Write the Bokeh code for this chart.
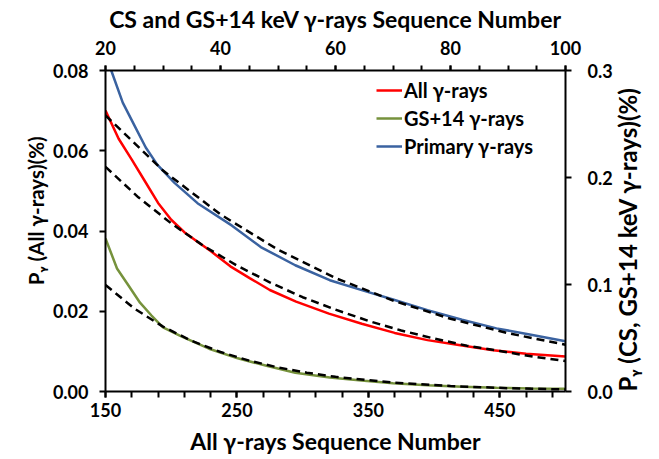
import math
from bokeh.plotting import figure
from bokeh.models import Range1d, LinearAxis, FixedTicker, PrintfTickFormatter, Legend
from bokeh.embed import file_html
from bokeh.resources import INLINE

# ---- data ----
# All gamma-rays: bottom axis (sequence number) / left axis (%)
red_x = [150, 160, 170, 180, 190, 200, 210, 220, 230, 245, 260, 275, 295, 320, 345, 370, 395, 420, 445, 470, 500]
red_y = [0.0700, 0.0630, 0.0578, 0.0524, 0.0470, 0.0428, 0.0397, 0.0373, 0.0350, 0.0312, 0.0282, 0.0253,
         0.0224, 0.0194, 0.0169, 0.0146, 0.0128, 0.0115, 0.0103, 0.0094, 0.0087]
redfit_x = [150, 175, 200, 225, 250, 275, 300, 325, 350, 375, 400, 425, 450, 475, 500]
redfit_y = [0.0560, 0.0484, 0.0419, 0.0362, 0.0314, 0.0272, 0.0235, 0.0204, 0.0176, 0.0152, 0.0132,
            0.0114, 0.0101, 0.0087, 0.0076]

# Primary and GS+14 gamma-rays: top axis (sequence number) / right axis (%)
blue_x = [20, 21, 23, 25, 27, 29, 32, 36, 42, 47, 53, 59, 65, 70, 76, 82, 88, 94, 100]
blue_y = [0.316, 0.300, 0.270, 0.249, 0.228, 0.212, 0.195, 0.176, 0.155, 0.135, 0.118, 0.104, 0.094,
          0.086, 0.076, 0.067, 0.059, 0.053, 0.047]
bluefit_x = [20, 30, 40, 50, 60, 70, 80, 90, 100]
bluefit_y = [0.258, 0.2065, 0.1655, 0.1325, 0.1060, 0.0850, 0.0680, 0.0545, 0.0437]

green_x = [20, 22, 24, 26, 28, 30, 33, 38, 43, 48, 53, 59, 65, 70, 76, 82, 88, 94, 100]
green_y = [0.143, 0.115, 0.099, 0.083, 0.071, 0.060, 0.052, 0.040, 0.031, 0.024, 0.0175, 0.013, 0.010,
           0.0078, 0.0058, 0.0045, 0.0035, 0.0029, 0.0025]
greenfit_x = [20, 25, 30, 35, 40, 45, 50, 55, 60, 70, 80, 90, 100]
greenfit_y = [0.0995, 0.0776, 0.0606, 0.0473, 0.0369, 0.0288, 0.0225, 0.0176, 0.0137, 0.0083, 0.0051,
              0.0031, 0.0019]

bottom_ticks = [150, 250, 350, 450]
bottom_minor = [150, 170, 190, 210, 230, 250, 270, 290, 310, 330, 350, 370, 390, 410, 430, 450, 470, 490]
top_ticks = [20, 40, 60, 80, 100]
top_minor = [20, 25, 30, 35, 40, 45, 50, 55, 60, 65, 70, 75, 80, 85, 90, 95, 100]
left_ticks = [0.0, 0.02, 0.04, 0.06, 0.08]
right_ticks = [0.0, 0.1, 0.2, 0.3]

labels = ["All γ-rays", "GS+14 γ-rays", "Primary γ-rays"]
colors = ["#FF0000", "#76923C", "#3A62A0"]

title_top = "CS and GS+14 keV γ-rays Sequence Number"
title_bottom = "All γ-rays Sequence Number"
title_left = "\u00a0" * 8 + "Pᵧ (All γ-rays)(%)"
title_right = "Pᵧ (CS, GS+14 keV γ-rays)(%)"

FONT = "Lato"
W, H = 659, 459

p = figure(width=W, height=H, output_backend="svg", toolbar_location=None,
           x_range=Range1d(150, 500), y_range=Range1d(0, 0.08),
           x_axis_location=None, y_axis_location=None,
           min_border_left=105, min_border_right=87, min_border_top=70, min_border_bottom=68)
p.extra_x_ranges = {"top": Range1d(20, 100)}
p.extra_y_ranges = {"right": Range1d(0, 0.3)}
p.outline_line_color = None
p.xgrid.visible = False
p.ygrid.visible = False
p.background_fill_color = "white"
p.border_fill_color = "white"


def style(ax, tick_out, standoff, label, label_standoff, label_size):
    ax.axis_line_width = 2
    ax.axis_line_color = "black"
    ax.major_tick_line_width = 2
    ax.minor_tick_line_width = 2
    ax.major_tick_line_color = "black"
    ax.minor_tick_line_color = "black"
    ax.major_tick_in = 0
    ax.major_tick_out = tick_out
    ax.minor_tick_in = 0
    ax.minor_tick_out = tick_out
    ax.major_label_text_font = FONT
    ax.major_label_text_font_style = "bold"
    ax.major_label_text_font_size = "18px"
    ax.major_label_text_color = "black"
    ax.major_label_standoff = standoff
    ax.axis_label = label
    ax.axis_label_text_font = FONT
    ax.axis_label_text_font_style = "bold"
    ax.axis_label_text_font_size = label_size
    ax.axis_label_text_color = "black"
    ax.axis_label_standoff = label_standoff


ax_b = LinearAxis(ticker=FixedTicker(ticks=bottom_ticks, minor_ticks=bottom_minor))
style(ax_b, 6, 5, title_bottom, 7, "23px")
p.add_layout(ax_b, "below")

ax_t = LinearAxis(x_range_name="top", ticker=FixedTicker(ticks=top_ticks, minor_ticks=top_minor))
style(ax_t, 5, 11, title_top, 5, "23px")
p.add_layout(ax_t, "above")

ax_l = LinearAxis(ticker=FixedTicker(ticks=left_ticks), formatter=PrintfTickFormatter(format="%.2f"))
style(ax_l, 6, 11, title_left, 2, "20.5px")
p.add_layout(ax_l, "left")

ax_r = LinearAxis(y_range_name="right", ticker=FixedTicker(ticks=right_ticks),
                  formatter=PrintfTickFormatter(format="%.1f"))
style(ax_r, 6, 16, title_right, 12, "24px")
ax_r.axis_label_orientation = math.pi / 2
ax_r.axis_label_align = "start"
p.add_layout(ax_r, "right")

# ---- data lines ----
r_red = p.line(red_x, red_y, line_color=colors[0], line_width=2.5)
r_green = p.line(green_x, green_y, line_color=colors[1], line_width=2.5,
                 x_range_name="top", y_range_name="right")
r_blue = p.line(blue_x, blue_y, line_color=colors[2], line_width=2.5,
                x_range_name="top", y_range_name="right")

# ---- fits (dashed) ----
p.line(redfit_x, redfit_y, line_color="black", line_width=2.5, line_dash="8 5")
p.line(bluefit_x, bluefit_y, line_color="black", line_width=2.5, line_dash="8 5",
       x_range_name="top", y_range_name="right")
p.line(greenfit_x, greenfit_y, line_color="black", line_width=2.5, line_dash="8 5",
       x_range_name="top", y_range_name="right")

legend = Legend(items=[(labels[0], [r_red]), (labels[1], [r_green]), (labels[2], [r_blue])],
                location=(271, 231), orientation="vertical")
legend.border_line_color = None
legend.background_fill_alpha = 0
legend.padding = 0
legend.margin = 0
legend.spacing = 0
legend.glyph_width = 26
legend.glyph_height = 28
legend.label_height = 28
legend.label_standoff = 2
legend.label_text_font = FONT
legend.label_text_font_style = "bold"
legend.label_text_font_size = "20px"
legend.label_text_color = "black"
p.add_layout(legend, "center")

open("out.html", "w").write(file_html(p, INLINE))
